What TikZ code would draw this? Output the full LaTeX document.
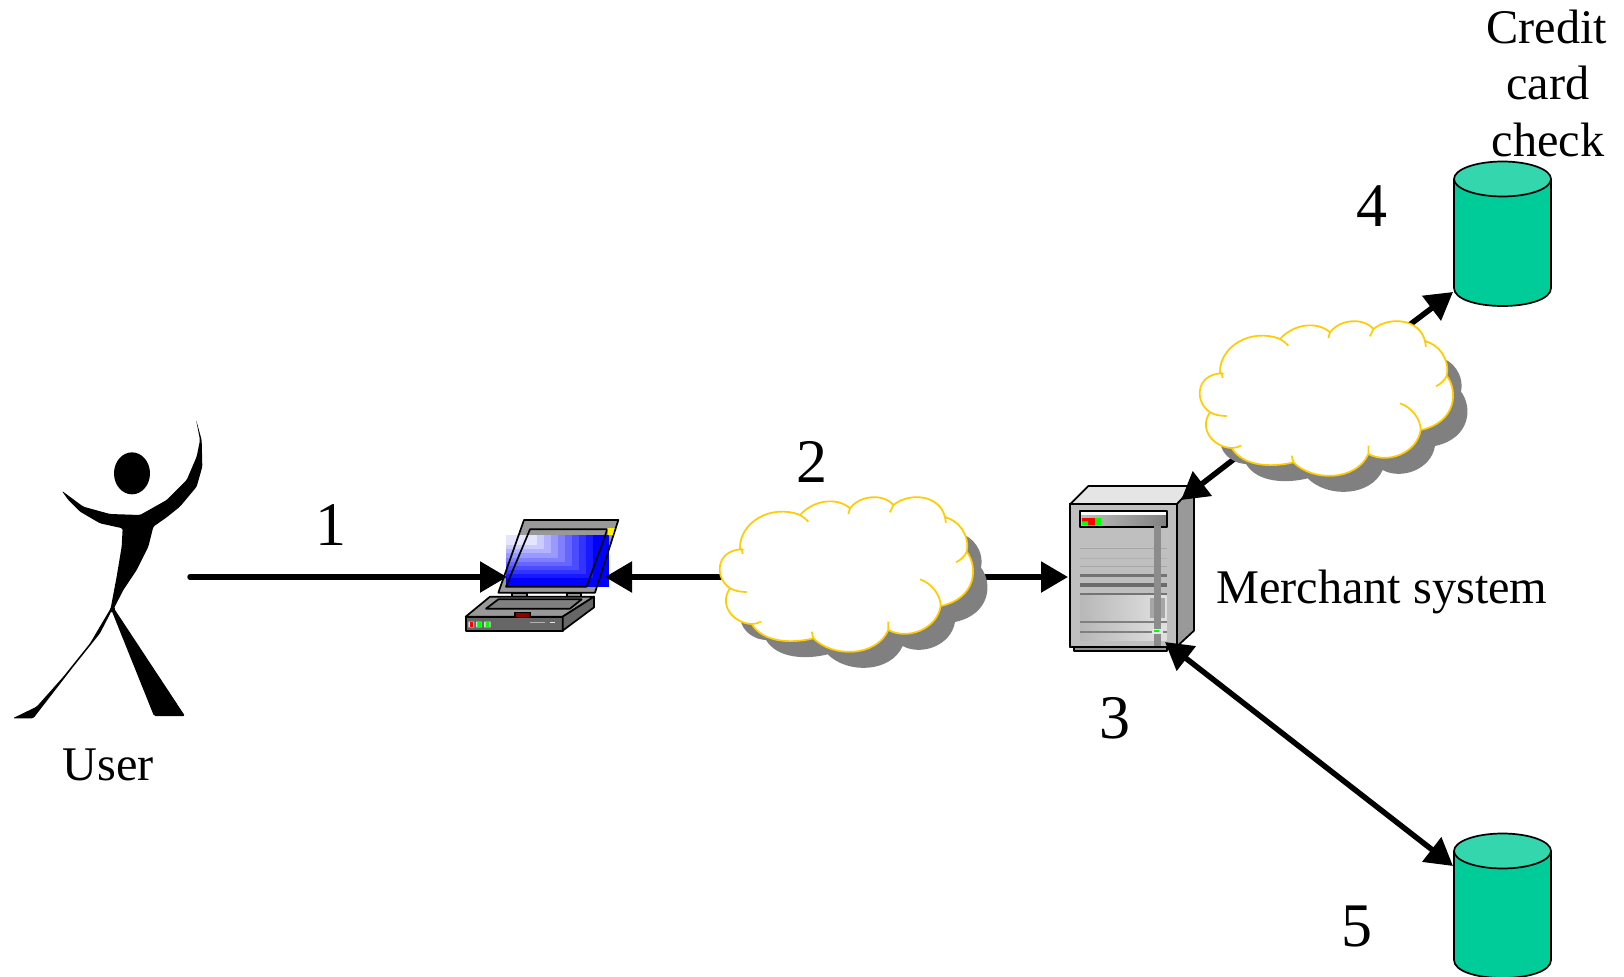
\documentclass[tikz,border=0pt]{standalone}
\usepackage{fontspec}
\setmainfont{Liberation Serif}
\usetikzlibrary{arrows.meta}
\definecolor{cloudline}{HTML}{FFCC00}
\definecolor{cloudshadow}{HTML}{808080}
\definecolor{dbbody}{HTML}{00CC99}
\definecolor{dbtop}{HTML}{33D6AD}
\tikzset{
  anchorbox/.style={inner sep=0pt,outer sep=0pt,minimum width=#1},
  onehead/.style={line width=5.5pt,-{Triangle[length=27pt,width=30pt]}},
  twohead/.style={line width=5.5pt,{Triangle[length=27pt,width=30pt]}-{Triangle[length=27pt,width=30pt]}},
  num/.style={font=\fontsize{62}{62}\selectfont,inner sep=0pt,anchor=base},
  lab/.style={font=\fontsize{48.3}{48.3}\selectfont,inner sep=0pt,anchor=base},
  ol/.style={draw=black,line width=1.7pt,line join=round},
  pics/cloud/.style={code={
    \begin{scope}[scale=1/3]
      \fill[cloudshadow,shift={(43,48)}] \cloudpath;
      \fill[white] \cloudpath;
      \draw[cloudline,line width=1.7pt] \cloudpath;
      \draw[cloudline,line width=1.7pt]
        (300,105) .. controls (310,110) and (318,118) .. (325,125)
        (450,85) -- (445,102)
        (580,75) -- (570,97)
        (735,112) -- (738,128)
        (800,215) .. controls (795,228) and (782,240) .. (768,247)
        (722,378) .. controls (722,345) and (695,310) .. (660,298)
        (565,450) -- (565,425)
        (340,475) -- (335,455)
        (155,432) .. controls (165,432) and (175,429) .. (183,425)
        (90,325) .. controls (105,333) and (122,336) .. (140,336)
        (125,208) -- (128,222);
    \end{scope}
  }},
  pics/dbcyl/.style={code={
    \path[fill=dbbody] (0,0) -- (0,109) .. controls (0,120) and (22,127) .. (48.5,127) .. controls (75,127) and (97,120) .. (97,109) -- (97,0) -- cycle;
    \draw[ol] (0,0) -- (0,109) .. controls (0,120) and (22,127) .. (48.5,127) .. controls (75,127) and (97,120) .. (97,109) -- (97,0);
    \draw[ol,fill=dbtop] (48.5,0) ellipse[x radius=48.5,y radius=17.5];
  }}
}
\newcommand{\cloudpath}{(120,205) .. controls (118,130) and (210,70) .. (300,105)
  .. controls (340,60) and (410,50) .. (450,85)
  .. controls (480,45) and (550,40) .. (580,75)
  .. controls (630,35) and (720,45) .. (735,112)
  .. controls (775,120) and (810,165) .. (800,215)
  .. controls (835,260) and (830,355) .. (722,378)
  .. controls (710,450) and (620,480) .. (565,450)
  .. controls (530,530) and (400,535) .. (340,475)
  .. controls (280,490) and (190,490) .. (155,432)
  .. controls (100,430) and (55,375) .. (90,325)
  .. controls (40,290) and (50,210) .. (125,208) -- cycle}
\begin{document}
\begin{tikzpicture}[x=1pt,y=-1pt]
\fill[white] (0,0) rectangle (1624,976.5);
\useasboundingbox (0,0) rectangle (1624,976.5);

% invisible anchor nodes
\node[anchorbox=176pt] (user) at (102,577) {};
\node[anchorbox=98pt] (laptop) at (556,577) {};
\node[anchorbox=10pt] (cloudA) at (851,577) {};
\node[anchorbox=114pt] (server) at (1125,577) {};
\coordinate (serverTop) at (1181,500);
\coordinate (serverBot) at (1165,642);
\node[anchorbox=10pt] (cloudB) at (1317,395) {};
\coordinate (dbOnePort) at (1453,292);
\coordinate (dbTwoPort) at (1453,866);

% person
\begin{scope}[shift={(0,400)},scale=1/3]
\fill[black] (396,220) ellipse[x radius=54,y radius=63];
\fill[black,rounded corners=1.5pt] (588,58) -- (605,120) -- (607,200) -- (590,260) -- (540,320) -- (500,352) -- (460,380)
 -- (445,440) -- (410,510) -- (370,570) -- (342,625)
 -- (555,948) -- (462,948) -- (335,632) -- (300,700) -- (220,800) -- (100,955) -- (38,955) -- (110,920)
 -- (190,830) -- (270,730) -- (332,625) -- (350,530) -- (365,440) -- (368,385)
 -- (300,370) -- (240,335) -- (205,300) -- (185,272) -- (250,320) -- (330,342) -- (420,345)
 -- (500,300) -- (560,240) -- (590,170) -- (600,120) -- cycle;
\end{scope}

% laptop
\begin{scope}[shift={(450,500)},scale=1/3]
\fill[gray!80] (222,60) -- (505,60) -- (435,278) -- (145,278) -- cycle;
\fill[blue] (168,105) rectangle (478,260);
\foreach \c in {90,80,70,60,50,40,30,20,10}{
  \fill[blue!\c!white] (168,105) rectangle ({239+\c*2.125},{122.5+\c*1.25});
}
\draw[ol] (222,60) -- (505,60) -- (435,278) -- (145,278) -- cycle;
\draw[ol] (240,88) -- (472,88) -- (410,260) -- (168,260) -- cycle;
\fill[yellow] (472,84) -- (494,84) -- (488,105) -- (474,105) -- cycle;
\draw[ol,fill=gray!80] (185,278) rectangle (230,290);
\draw[ol,fill=gray!80] (350,278) rectangle (392,290);
\draw[ol,fill=gray!80] (47,350) -- (120,290) -- (432,290) -- (338,350) -- cycle;
\draw[ol,fill=gray] (108,326) -- (145,298) -- (395,298) -- (360,326) -- cycle;
\draw[ol,fill=black!60] (47,350) rectangle (338,392);
\draw[ol,fill=black!60] (338,350) -- (432,290) -- (432,322) -- (338,392) -- cycle;
\fill[gray!30] (55,365) rectangle (72,382) (78,365) rectangle (95,382) (102,365) rectangle (122,382);
\fill[red] (60,365) rectangle (69,382);
\fill[green] (82,365) rectangle (93,382) (107,365) rectangle (118,382);
\fill[black] (192,336) rectangle (243,350);
\fill[red!55!black] (198,340) rectangle (238,350);
\draw[gray!60,line width=.8pt] (240,367) -- (285,367);
\draw[gray!20,line width=.8pt] (300,367) -- (315,367);
\end{scope}

% server
\begin{scope}[shift={(1050,470)},scale=1/3]
\draw[ol,fill=gray!85] (72,530) rectangle (352,543);
\draw[ol,fill=black!10] (60,103) -- (115,48) -- (432,48) -- (380,103) -- cycle;
\draw[ol,fill=black!40] (380,103) -- (432,48) -- (432,482) -- (380,530) -- cycle;
\draw[ol,fill=black!25] (60,103) rectangle (380,530);
\shade[left color=black!25,right color=black!25] (90,235) rectangle (350,375);
\shade[left color=black!28,right color=black!12] (90,375) rectangle (350,510);
\foreach \y/\w/\c in {235/1/35,265/1/30,290/1/35,317/2.4/55,344/4/58,371/2/55,455/2/50,485/2/50}{
  \draw[black!\c,line width=\w pt] (90,\y) -- (350,\y);
}
\fill[black!35] (300,385) rectangle (345,445);
\shade[left color=black!25,middle color=black!10,right color=black!50] (90,122) rectangle (350,170);
\fill[white] (90,122) rectangle (350,134);
\draw[ol] (90,122) rectangle (350,170);
\fill[red] (96,144) rectangle (114,155) (114,144) rectangle (136,166);
\fill[green] (96,155) rectangle (114,166) (136,144) rectangle (154,155) (136,155) rectangle (154,166);
\fill[black!45] (312,168) rectangle (332,530);
\fill[black!10] (307,478) rectangle (338,493);
\fill[green] (312,480) rectangle (328,487);
\draw[ol] (60,103) rectangle (380,530);
\end{scope}

% databases
\pic at (1454,179) {dbcyl};
\pic at (1454,851) {dbcyl};

% connectors
\draw[onehead,line cap=round] (user.east) -- (laptop.west);
\draw[onehead] (cloudA.center) -- (laptop.east);
\draw[onehead] (cloudA.center) -- (server.west);
\draw[onehead] (cloudB.center) -- (serverTop);
\draw[onehead] (cloudB.center) -- (dbOnePort);
\draw[twohead] (serverBot) -- (dbTwoPort);

% clouds
\pic at (700,480) {cloud};
\pic at (1180,304) {cloud};

% labels
\node[num] (numone) at (331,545) {1};
\node[num] (numtwo) at (812,482) {2};
\node[num] (numthree) at (1115,738) {3};
\node[num] (numfour) at (1372,226) {4};
\node[num] (numfive) at (1357,946) {5};
\node[lab] (userlab) at (108,780) {User};
\node[lab,anchor=base west] (merch) at (1216,603) {Merchant system};
\node[lab] (credit) at (1547,43.5) {Credit};
\node[lab] (card) at (1548,99.5) {card};
\node[lab] (check) at (1548,156) {check};
\end{tikzpicture}
\end{document}
